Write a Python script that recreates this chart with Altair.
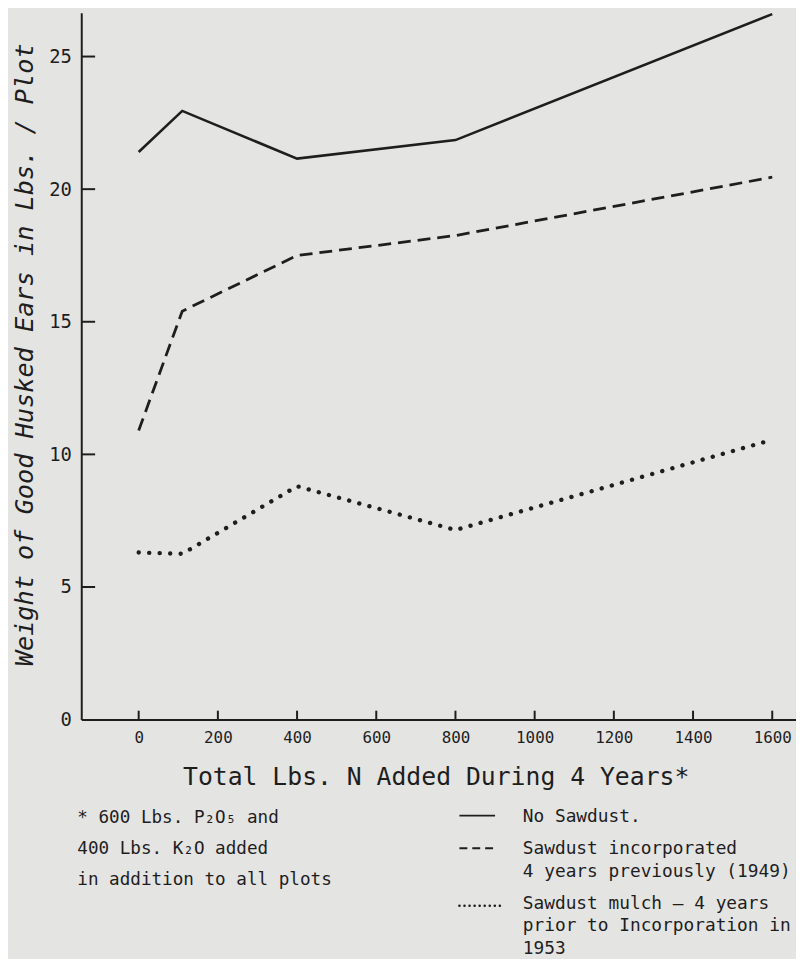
import altair as alt
import pandas as pd

# ---- data ----
n_added = [0, 110, 400, 800, 1600]
no_sawdust = [21.4, 22.95, 21.15, 21.85, 26.6]
incorporated = [10.9, 15.4, 17.5, 18.25, 20.45]
mulch = [6.3, 6.25, 8.8, 7.15, 10.55]

x_ticks = [0, 200, 400, 600, 800, 1000, 1200, 1400, 1600]
y_ticks = [0, 5, 10, 15, 20, 25]

series = ["No Sawdust", "Sawdust incorporated", "Sawdust mulch"]

x_title = "Total Lbs. N Added During 4 Years*"
y_title = "Weight of Good Husked Ears in Lbs. / Plot"
footnote = "* 600 Lbs. P\u2082O\u2085 and\n400 Lbs. K\u2082O added\nin addition to all plots"
legend_1 = "No Sawdust."
legend_2 = "Sawdust incorporated\n4 years previously (1949)"
legend_3 = "Sawdust mulch \u2013 4 years\nprior to Incorporation in\n1953"

rows = []
for name, vals in zip(series, [no_sawdust, incorporated, mulch]):
    for xv, yv in zip(n_added, vals):
        rows.append({"series": name, "n": xv, "w": yv})
df = pd.DataFrame(rows)

FONT = "DejaVu Sans Mono"
INK = "#1e1e1e"
BG = "#e4e4e3"

xscale = alt.Scale(domain=[-145, 1660], nice=False, zero=False)
yscale = alt.Scale(domain=[0, 26.65], nice=False, zero=False)

xaxis = alt.Axis(values=x_ticks, ticks=False, grid=False, format="d",
                 labelFontSize=16, labelPadding=10, labelColor=INK,
                 labelFont=FONT, domainColor=INK, domainWidth=2, title=x_title,
                 titleFont=FONT, titleFontSize=25, titleFontWeight="normal",
                 titleColor=INK, titleX=358, titleY=58, titleAlign="center",
                 titleBaseline="middle")
yaxis = alt.Axis(values=y_ticks, ticks=False, grid=False, labelFontSize=19,
                 labelPadding=10, labelColor=INK, labelFont=FONT,
                 domainColor=INK, domainWidth=2, title=y_title,
                 titleFont=FONT, titleFontSize=25.5, titleFontWeight="normal",
                 titleFontStyle="italic", titleColor=INK, titleAngle=270,
                 titleX=-57, titleY=345, titleAlign="center",
                 titleBaseline="middle")

base = alt.Chart(df)

solid = base.transform_filter(alt.datum.series == series[0]).mark_line(
    color=INK, strokeWidth=2.6).encode(
    x=alt.X("n:Q", scale=xscale, axis=xaxis),
    y=alt.Y("w:Q", scale=yscale, axis=yaxis),
)
dashed = base.transform_filter(alt.datum.series == series[1]).mark_line(
    color=INK, strokeWidth=2.8, strokeDash=[13, 7]).encode(
    x=alt.X("n:Q", scale=xscale), y=alt.Y("w:Q", scale=yscale))
dotted = base.transform_filter(alt.datum.series == series[2]).mark_line(
    color=INK, strokeWidth=4.4, strokeDash=[0.1, 10.5], strokeCap="round").encode(
    x=alt.X("n:Q", scale=xscale), y=alt.Y("w:Q", scale=yscale))

xt = alt.Chart(pd.DataFrame({"t": x_ticks})).mark_rule(
    color=INK, strokeWidth=2).encode(
    x=alt.X("t:Q", scale=xscale), y=alt.value(705), y2=alt.value(714))
yt = alt.Chart(pd.DataFrame({"t": y_ticks[1:]})).mark_rule(
    color=INK, strokeWidth=2).encode(
    y=alt.Y("t:Q", scale=yscale), x=alt.value(0), x2=alt.value(14))


def label(text, x, y, lh=23, size=18):
    return alt.Chart(pd.DataFrame({"t": [text]})).mark_text(
        font=FONT, fontSize=size, color=INK, align="left",
        baseline="alphabetic", lineBreak="\n", lineHeight=lh).encode(
        text="t:N", x=alt.value(x), y=alt.value(y))


foot = label(footnote, -4, 818, 31.5, 17.8)
l1 = label(legend_1, 446, 817)
l2 = label(legend_2, 446, 850)
l3 = label(legend_3, 446, 905)


def sample(y, dash, width, x2=418, cap="butt"):
    return alt.Chart(pd.DataFrame({"t": [0]})).mark_rule(
        color=INK, strokeWidth=width, strokeDash=dash, strokeCap=cap).encode(
        x=alt.value(382), x2=alt.value(x2), y=alt.value(y))


s1 = sample(811, [1, 0], 2)
s2 = sample(844, [8, 5], 2)
s3 = sample(902, [0.1, 5], 2.5, x2=423, cap="round")

chart = alt.layer(solid, dashed, dotted, xt, yt, foot, l1, l2, l3, s1, s2, s3).properties(
    width=722, height=714,
    autosize=alt.AutoSizeParams(type="none"),
    padding={"left": 74, "top": 0, "right": 0, "bottom": 237},
    background=BG,
).configure_view(stroke=None)

chart.save("out.html", embed_options={"renderer": "svg", "actions": False})
